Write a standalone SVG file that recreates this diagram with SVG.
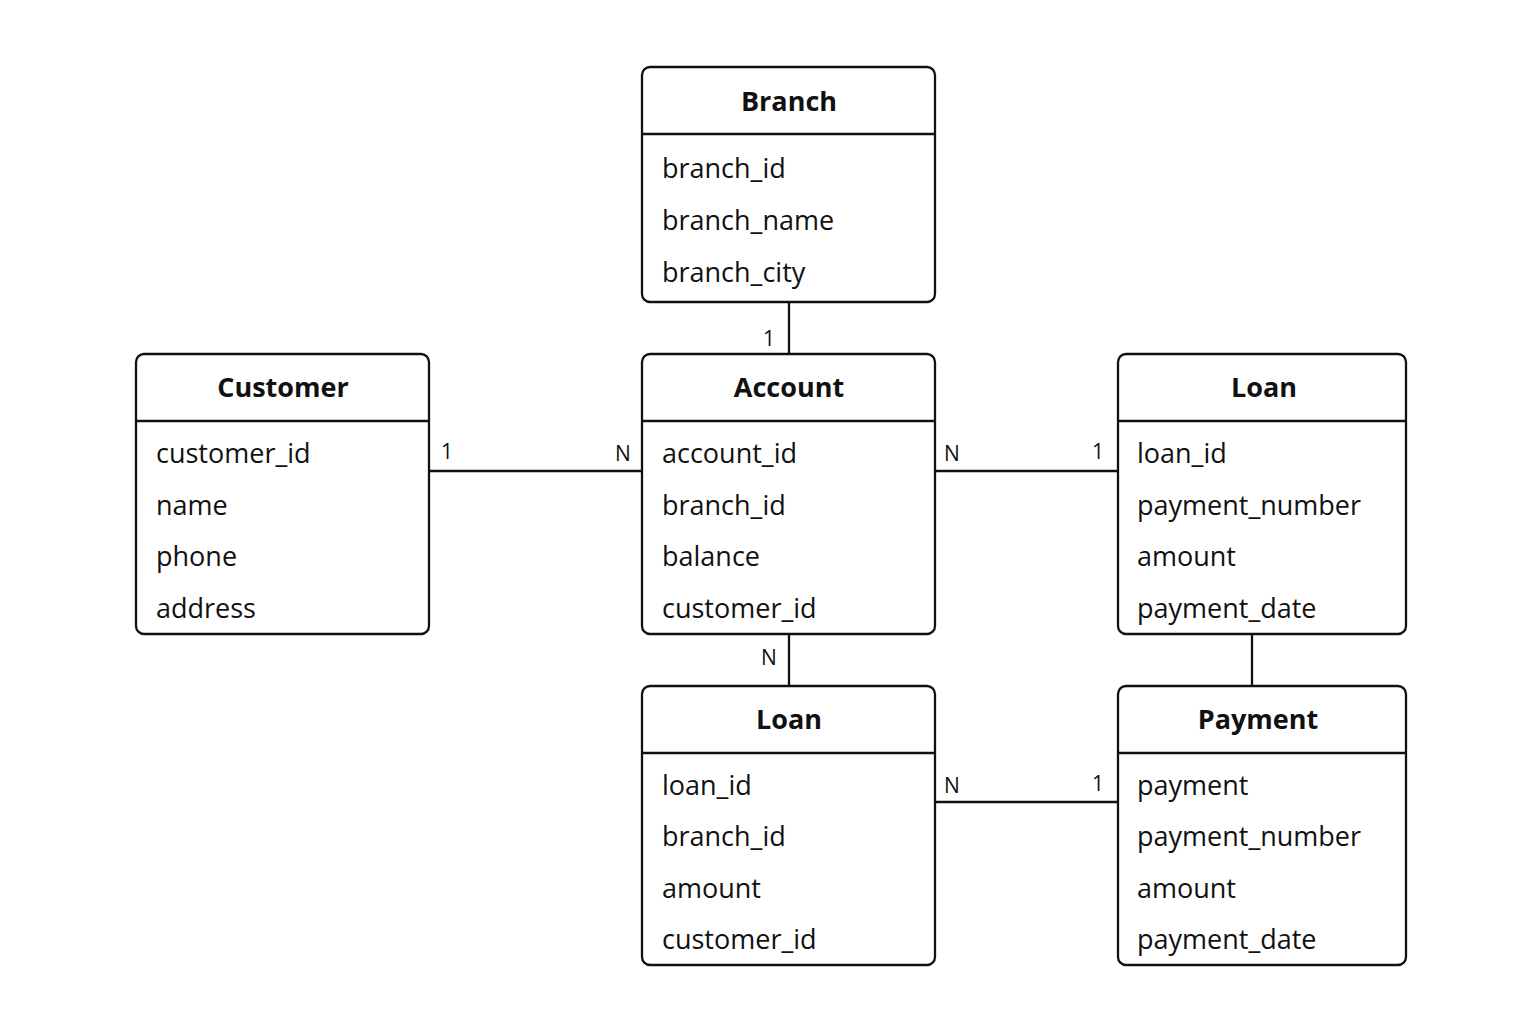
<svg xmlns="http://www.w3.org/2000/svg" width="1536" height="1024" viewBox="0 0 1536 1024">
<style>
.box{fill:#fff;stroke:#111;stroke-width:2.3}
.sep{stroke:#111;stroke-width:2.3}
.title{font-family:"Open Sans","Noto Sans",sans-serif;font-weight:bold;font-size:27px;fill:#111;text-anchor:middle}
.attr{font-family:"Open Sans","Noto Sans",sans-serif;font-size:27px;fill:#111}
.lbl{font-family:"Open Sans","Noto Sans",sans-serif;font-size:21px;fill:#111}
.conn line{stroke:#111;stroke-width:2.3}
</style>
<rect width="1536" height="1024" fill="#fff"/>
<g id="connectors" class="conn">
<line x1="789" y1="302" x2="789" y2="354"/>
<line x1="429" y1="471" x2="642" y2="471"/>
<line x1="935" y1="471" x2="1118" y2="471"/>
<line x1="789" y1="634" x2="789" y2="686"/>
<line x1="1252" y1="634" x2="1252" y2="686"/>
<line x1="935" y1="802" x2="1118" y2="802"/>
<text class="lbl" x="763" y="346">1</text>
<text class="lbl" x="441" y="459">1</text>
<text class="lbl" x="615" y="461">N</text>
<text class="lbl" x="944" y="461">N</text>
<text class="lbl" x="1092" y="459">1</text>
<text class="lbl" x="761" y="665">N</text>
<text class="lbl" x="944" y="793">N</text>
<text class="lbl" x="1092" y="791">1</text>
</g>
<g id="branch">
<rect class="box" x="642" y="67" width="293" height="235" rx="8"/>
<line class="sep" x1="642" y1="134" x2="935" y2="134"/>
<text class="title" x="789" y="111">Branch</text>
<text class="attr" x="662" y="178">branch_id</text>
<text class="attr" x="662" y="230">branch_name</text>
<text class="attr" x="662" y="282">branch_city</text>
</g>
<g id="customer">
<rect class="box" x="136" y="354" width="293" height="280" rx="8"/>
<line class="sep" x1="136" y1="421" x2="429" y2="421"/>
<text class="title" x="283" y="397">Customer</text>
<text class="attr" x="156" y="463">customer_id</text>
<text class="attr" x="156" y="515">name</text>
<text class="attr" x="156" y="566">phone</text>
<text class="attr" x="156" y="618">address</text>
</g>
<g id="account">
<rect class="box" x="642" y="354" width="293" height="280" rx="8"/>
<line class="sep" x1="642" y1="421" x2="935" y2="421"/>
<text class="title" x="789" y="397">Account</text>
<text class="attr" x="662" y="463">account_id</text>
<text class="attr" x="662" y="515">branch_id</text>
<text class="attr" x="662" y="566">balance</text>
<text class="attr" x="662" y="618">customer_id</text>
</g>
<g id="loan-right">
<rect class="box" x="1118" y="354" width="288" height="280" rx="8"/>
<line class="sep" x1="1118" y1="421" x2="1406" y2="421"/>
<text class="title" x="1264" y="397">Loan</text>
<text class="attr" x="1137" y="463">loan_id</text>
<text class="attr" x="1137" y="515">payment_number</text>
<text class="attr" x="1137" y="566">amount</text>
<text class="attr" x="1137" y="618">payment_date</text>
</g>
<g id="loan-bottom">
<rect class="box" x="642" y="686" width="293" height="279" rx="8"/>
<line class="sep" x1="642" y1="753" x2="935" y2="753"/>
<text class="title" x="789" y="729">Loan</text>
<text class="attr" x="662" y="795">loan_id</text>
<text class="attr" x="662" y="846">branch_id</text>
<text class="attr" x="662" y="898">amount</text>
<text class="attr" x="662" y="949">customer_id</text>
</g>
<g id="payment">
<rect class="box" x="1118" y="686" width="288" height="279" rx="8"/>
<line class="sep" x1="1118" y1="753" x2="1406" y2="753"/>
<text class="title" x="1258" y="729">Payment</text>
<text class="attr" x="1137" y="795">payment</text>
<text class="attr" x="1137" y="846">payment_number</text>
<text class="attr" x="1137" y="898">amount</text>
<text class="attr" x="1137" y="949">payment_date</text>
</g>
</svg>
